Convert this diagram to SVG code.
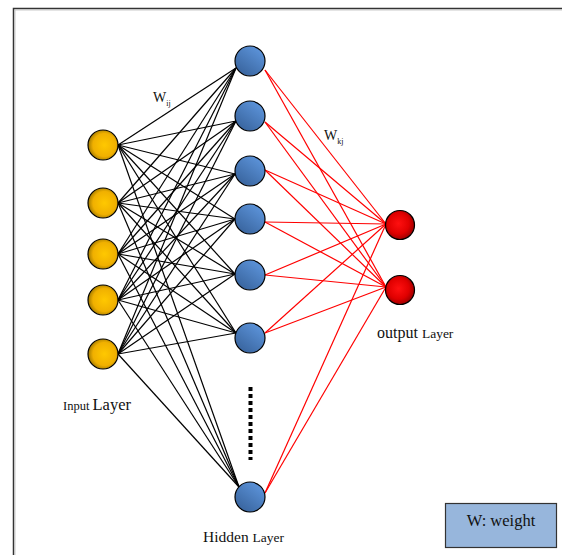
<svg xmlns="http://www.w3.org/2000/svg" width="562" height="555" viewBox="0 0 562 555">
<style>
.t{font-family:"Liberation Serif","Times New Roman",serif;fill:#111}
.blk line{stroke:#000;stroke-width:1.2}
.red line{stroke:#ff0000;stroke-width:1.2}
.in{fill:url(#gy);stroke:#000;stroke-width:1.2}
.hd{fill:url(#gb);stroke:#000;stroke-width:1.2}
.out{fill:url(#gr);stroke:#000;stroke-width:1.2}
</style>
<defs>
<radialGradient id="gy" cx="0.55" cy="0.5" r="0.55">
<stop offset="0" stop-color="#ffc800"/><stop offset="0.7" stop-color="#f0b000"/><stop offset="1" stop-color="#a07800"/>
</radialGradient>
<linearGradient id="gb" x1="0.8" y1="0.1" x2="0.2" y2="0.9">
<stop offset="0" stop-color="#5b92d8"/><stop offset="1" stop-color="#3a66a0"/>
</linearGradient>
<radialGradient id="gr" cx="0.45" cy="0.45" r="0.6">
<stop offset="0" stop-color="#ff1010"/><stop offset="0.6" stop-color="#e00000"/><stop offset="1" stop-color="#900000"/>
</radialGradient>
</defs>
<rect width="562" height="555" fill="#fff"/>
<path d="M13.5 555 V8.5 H562" fill="none" stroke="#333" stroke-width="1.5"/>
<path d="M15 555 V10 H562" fill="none" stroke="#bbb" stroke-width="0.8"/>
<g id="connectors">
<g class="blk">
<line x1="118" y1="145" x2="236" y2="68"/><line x1="118" y1="145" x2="236" y2="121"/><line x1="118" y1="145" x2="235" y2="174"/><line x1="118" y1="145" x2="235" y2="219"/><line x1="118" y1="145" x2="235" y2="274"/><line x1="118" y1="145" x2="236" y2="333"/><line x1="118" y1="145" x2="239" y2="487"/>
<line x1="118" y1="203" x2="236" y2="68"/><line x1="118" y1="203" x2="236" y2="121"/><line x1="118" y1="203" x2="235" y2="174"/><line x1="118" y1="203" x2="235" y2="219"/><line x1="118" y1="203" x2="235" y2="274"/><line x1="118" y1="203" x2="236" y2="333"/><line x1="118" y1="203" x2="239" y2="487"/>
<line x1="118" y1="254" x2="236" y2="68"/><line x1="118" y1="254" x2="236" y2="121"/><line x1="118" y1="254" x2="235" y2="174"/><line x1="118" y1="254" x2="235" y2="219"/><line x1="118" y1="254" x2="235" y2="274"/><line x1="118" y1="254" x2="236" y2="333"/><line x1="118" y1="254" x2="239" y2="487"/>
<line x1="118" y1="300" x2="236" y2="68"/><line x1="118" y1="300" x2="236" y2="121"/><line x1="118" y1="300" x2="235" y2="174"/><line x1="118" y1="300" x2="235" y2="219"/><line x1="118" y1="300" x2="235" y2="274"/><line x1="118" y1="300" x2="236" y2="333"/><line x1="118" y1="300" x2="239" y2="487"/>
<line x1="118" y1="354" x2="236" y2="68"/><line x1="118" y1="354" x2="236" y2="121"/><line x1="118" y1="354" x2="235" y2="174"/><line x1="118" y1="354" x2="235" y2="219"/><line x1="118" y1="354" x2="235" y2="274"/><line x1="118" y1="354" x2="236" y2="333"/><line x1="118" y1="354" x2="239" y2="487"/>
</g>
<g class="red">
<line x1="265" y1="70" x2="386" y2="224"/><line x1="265" y1="70" x2="386" y2="287"/>
<line x1="265" y1="122" x2="386" y2="224"/><line x1="265" y1="122" x2="386" y2="287"/>
<line x1="265" y1="170" x2="386" y2="224"/><line x1="265" y1="170" x2="386" y2="287"/>
<line x1="265" y1="222" x2="386" y2="224"/><line x1="265" y1="222" x2="386" y2="287"/>
<line x1="265" y1="275" x2="386" y2="224"/><line x1="265" y1="275" x2="386" y2="287"/>
<line x1="265" y1="333" x2="386" y2="224"/><line x1="265" y1="333" x2="386" y2="287"/>
<line x1="265" y1="493" x2="386" y2="224"/><line x1="265" y1="493" x2="386" y2="287"/>
</g>
</g>
<g id="input-nodes">
<circle id="i1" class="in" cx="103" cy="145" r="15"/>
<circle id="i2" class="in" cx="103" cy="203" r="15"/>
<circle id="i3" class="in" cx="103" cy="254" r="15"/>
<circle id="i4" class="in" cx="103" cy="300" r="15"/>
<circle id="i5" class="in" cx="103" cy="354" r="15"/>
</g>
<g id="hidden-nodes">
<circle id="h1" class="hd" cx="250" cy="61" r="15"/>
<circle id="h2" class="hd" cx="250" cy="116" r="15"/>
<circle id="h3" class="hd" cx="250" cy="171" r="15"/>
<circle id="h4" class="hd" cx="250" cy="219" r="15"/>
<circle id="h5" class="hd" cx="250" cy="275" r="15"/>
<circle id="h6" class="hd" cx="250" cy="338" r="15"/>
<circle id="h7" class="hd" cx="250" cy="497" r="15"/>
</g>
<g id="output-nodes">
<circle id="o1" class="out" cx="400" cy="225" r="14.5"/>
<circle id="o2" class="out" cx="400" cy="290" r="14.5"/>
</g>
<line id="dots" x1="250.5" y1="387" x2="250.5" y2="460" stroke="#000" stroke-width="4" stroke-dasharray="4 3"/>
<text class="t" x="153" y="102" font-size="14">W<tspan font-size="8" dy="4">ij</tspan></text>
<text class="t" x="324" y="140" font-size="14">W<tspan font-size="8" dy="4">kj</tspan></text>
<text class="t" x="63" y="410" font-size="12.5">Input <tspan font-size="16.5">Layer</tspan></text>
<text class="t" x="203" y="542" font-size="15.5">Hidden <tspan font-size="13.5">Layer</tspan></text>
<text class="t" x="377" y="338" font-size="16">output <tspan font-size="13.5">Layer</tspan></text>
<g id="legend">
<rect x="445.5" y="503.5" width="111" height="44" fill="#97b6dc" stroke="#333" stroke-width="1.2"/>
<text class="t" x="501" y="526" font-size="16.5" text-anchor="middle">W: weight</text>
</g>
</svg>
